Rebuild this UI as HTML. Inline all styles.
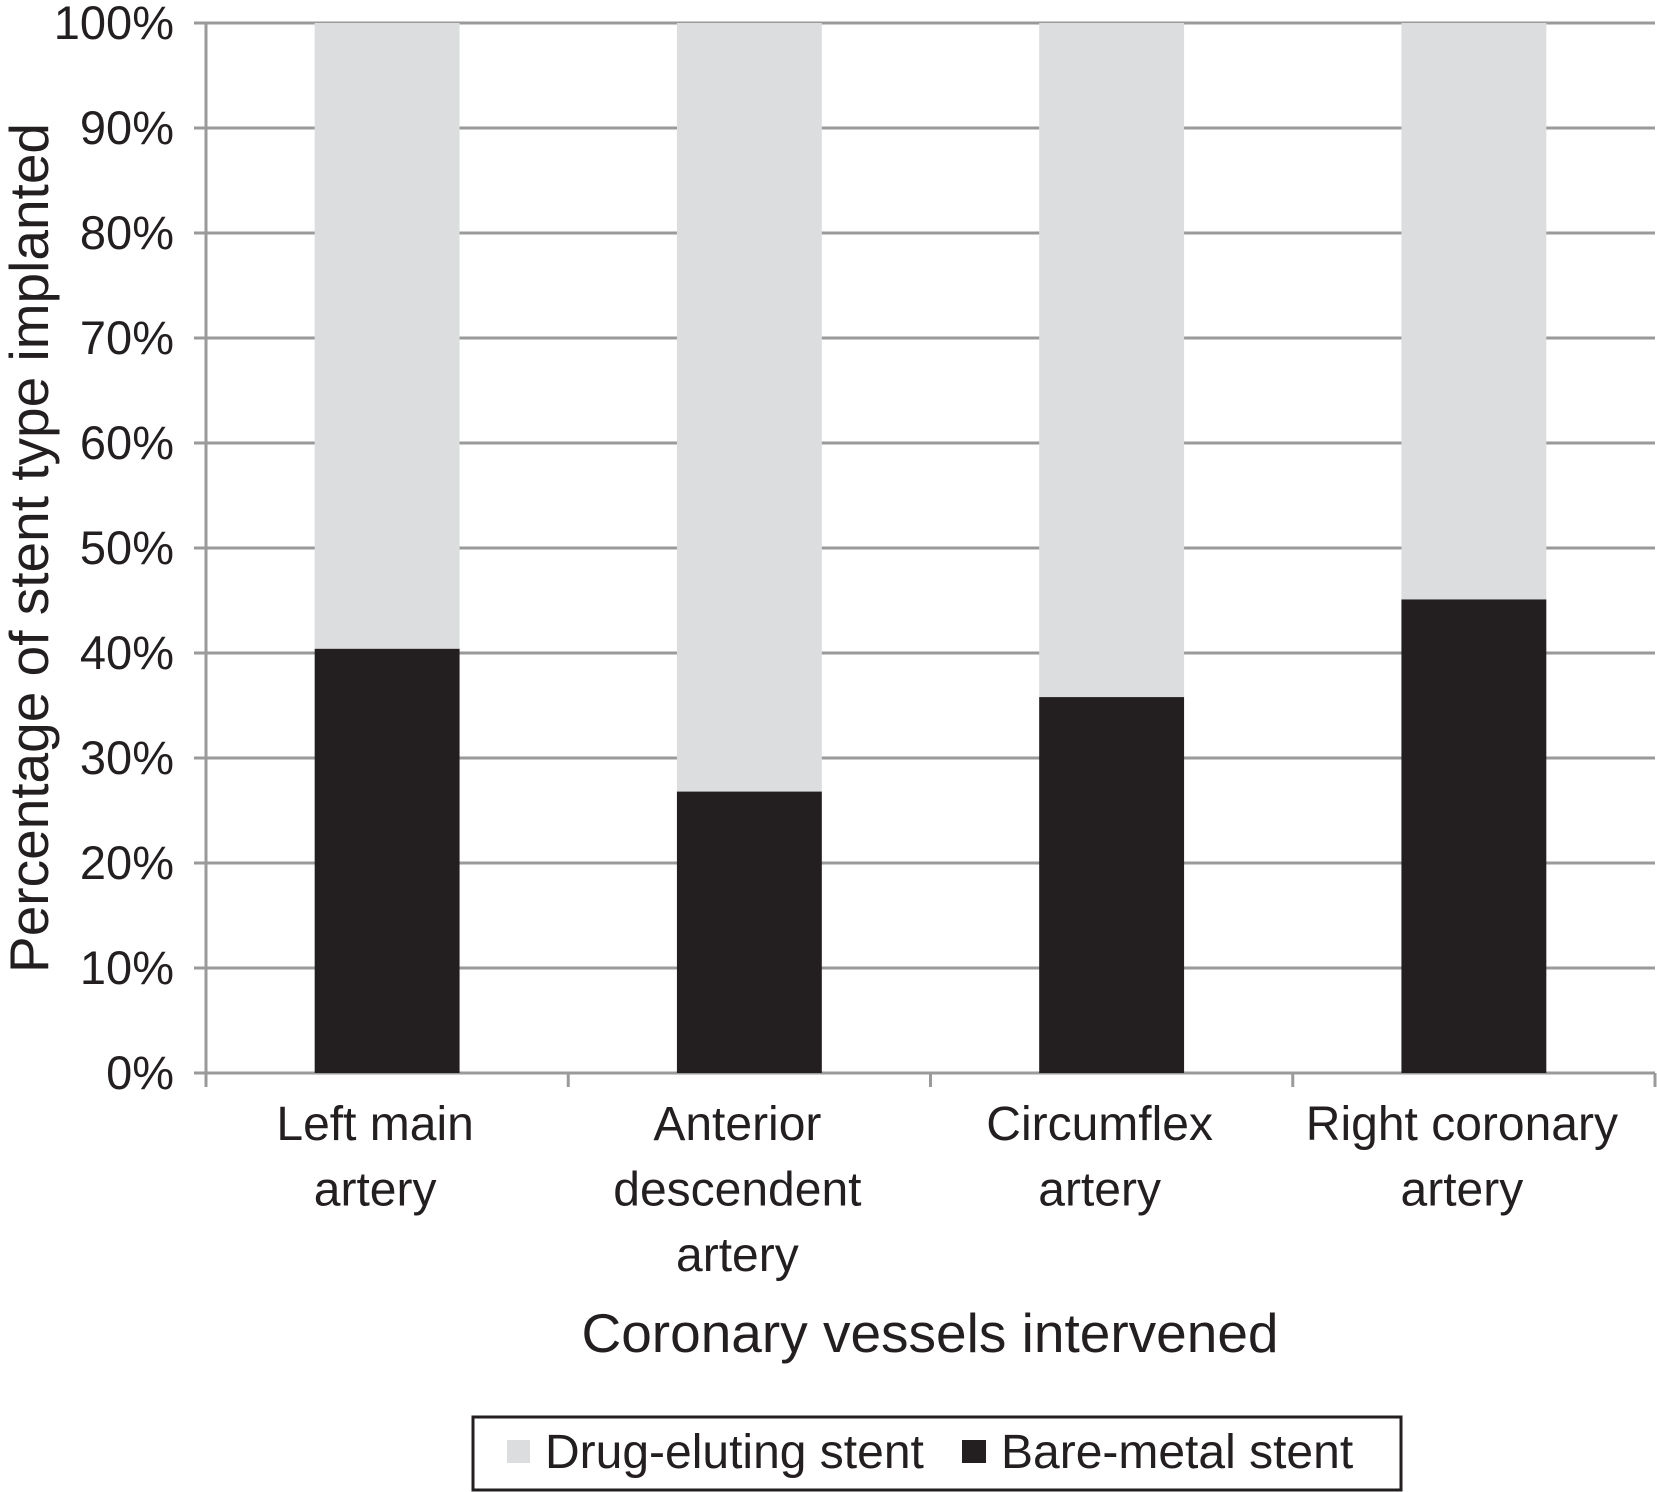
<!DOCTYPE html>
<html><head><meta charset="utf-8"><style>
html,body{margin:0;padding:0;background:#fff;}
svg{display:block;font-family:"Liberation Sans",Arial,sans-serif;}
</style></head><body>
<svg id="chart" width="1657" height="1492" viewBox="0 0 1657 1492"></svg>
<script>
const categories = [["Left main","artery"],["Anterior","descendent","artery"],["Circumflex","artery"],["Right coronary","artery"]];
const bareMetal = [40.4, 26.8, 35.8, 45.1];
const drugEluting = [59.6, 73.2, 64.2, 54.9];
const yTicks = [0,10,20,30,40,50,60,70,80,90,100];
const yTickLabels = ["0%","10%","20%","30%","40%","50%","60%","70%","80%","90%","100%"];

const NS="http://www.w3.org/2000/svg";
const svg=document.getElementById('chart');
const L=206,R=1655,T=23,B=1073;
const y=v=>B-(v/100)*(B-T);
const band=(R-L)/categories.length;
const xc=i=>L+band*(i+0.5);
const bw=band*0.4;
function mk(tag,attrs,parent){const e=document.createElementNS(NS,tag);for(const k in attrs)e.setAttribute(k,attrs[k]);(parent||svg).appendChild(e);return e;}

yTicks.forEach((t,i)=>{
  const g=mk('line',{x1:L-12,x2:R,y1:y(t),y2:y(t),stroke:'#9a9a9a','stroke-width':3});
  
  
  const tx=mk('text',{x:174,y:y(t)+16,'text-anchor':'end','font-size':47,fill:'#231f20'});
  tx.textContent=yTickLabels[i];
  
  
});
const ax=mk('line',{x1:L,x2:L,y1:T,y2:B,stroke:'#9a9a9a','stroke-width':3});


for(let i=0;i<=categories.length;i++){
  const tk=mk('line',{x1:L+band*i,x2:L+band*i,y1:B,y2:B+14,stroke:'#9a9a9a','stroke-width':3});
  
  
}
categories.forEach((c,i)=>{
  const d=mk('rect',{x:xc(i)-bw/2,y:y(100),width:bw,height:y(bareMetal[i])-y(100),fill:'#dcdddf'});
  
  
  const b=mk('rect',{x:xc(i)-bw/2,y:y(bareMetal[i]),width:bw,height:B-y(bareMetal[i]),fill:'#231f20'});
  
  
  c.forEach((ln,j)=>{
    const t=mk('text',{x:xc(i)-12,y:1140+j*65.5,'text-anchor':'middle','font-size':48,fill:'#231f20'});
    t.textContent=ln;
    
    
  });
});
</script>
<svg style="position:absolute;left:0;top:0" width="1657" height="1492">
<text x="930" y="1352" text-anchor="middle" font-size="55" fill="#231f20" font-family="Liberation Sans, sans-serif">Coronary vessels intervened</text>
<text transform="translate(48,548) rotate(-90)" text-anchor="middle" font-size="55" fill="#231f20" font-family="Liberation Sans, sans-serif">Percentage of stent type implanted</text>
<g>
<rect x="473" y="1417" width="928" height="73" fill="#fff" stroke="#231f20" stroke-width="3"/>
<rect x="507" y="1440" width="23" height="23" fill="#dcdddf"/>
<text x="545" y="1468" font-size="48" fill="#231f20" font-family="Liberation Sans, sans-serif">Drug-eluting stent</text>
<rect x="962" y="1440" width="24" height="23" fill="#231f20"/>
<text x="1001" y="1468" font-size="48" fill="#231f20" font-family="Liberation Sans, sans-serif">Bare-metal stent</text>
</g>
</svg>
</body></html>
